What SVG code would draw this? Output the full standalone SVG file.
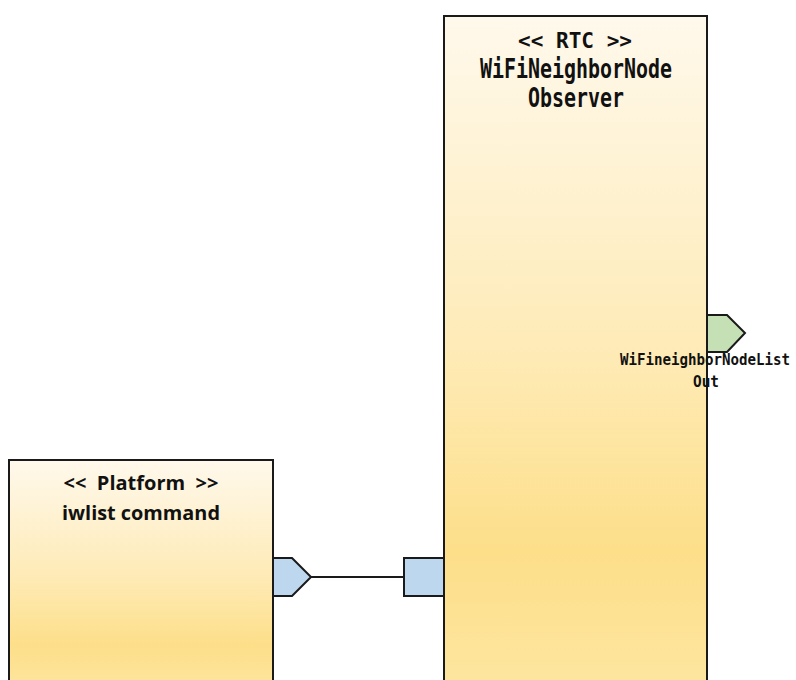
<svg xmlns="http://www.w3.org/2000/svg" width="796" height="680" viewBox="0 0 796 680">
<defs>
<linearGradient id="yel" x1="0" y1="0" x2="0" y2="1">
<stop offset="0" stop-color="#FFF9EC"/>
<stop offset="0.45" stop-color="#FEEBB8"/>
<stop offset="0.74" stop-color="#FDDF8A"/>
<stop offset="1" stop-color="#FEE8A8"/>
</linearGradient>
<style>
.box{fill:url(#yel);stroke:#1a1a1a;stroke-width:2}
.pin{fill:#BDD7EE;stroke:#1a1a1a;stroke-width:2;stroke-linejoin:miter}
.pout{fill:#C5E0B4;stroke:#1a1a1a;stroke-width:2}
.t1{font-family:"DejaVu Sans Mono",monospace;font-weight:bold;fill:#111;text-anchor:middle}
.t2{font-family:"Open Sans","Liberation Sans",sans-serif;font-weight:bold;fill:#111;text-anchor:middle}
.conn{stroke:#1a1a1a;stroke-width:2;fill:none}
</style>
</defs>
<g id="platform">
<rect class="box" x="9" y="460" width="264" height="250"/>
<text class="t2" x="141" y="490" font-size="20" xml:space="preserve">&lt;&lt;  Platform  &gt;&gt;</text>
<text class="t2" x="141" y="520" font-size="20" textLength="158" lengthAdjust="spacingAndGlyphs">iwlist command</text>
<path class="pin" d="M273 558 H292 L311 577 L292 596 H273 Z"/>
</g>
<g id="rtc">
<rect class="box" x="444" y="16" width="263" height="724"/>
<text class="t1" x="575" y="48" font-size="22" textLength="114" lengthAdjust="spacingAndGlyphs">&lt;&lt; RTC &gt;&gt;</text>
<text class="t1" x="576" y="78" font-size="26" textLength="192" lengthAdjust="spacingAndGlyphs">WiFiNeighborNode</text>
<text class="t1" x="576" y="107" font-size="26" textLength="96" lengthAdjust="spacingAndGlyphs">Observer</text>
<rect class="pin" x="404" y="558" width="40" height="38"/>
<path class="pout" d="M707 315 H727 L745 333 L727 352 H707 Z"/>
<text class="t1" x="705" y="365" font-size="16" textLength="170" lengthAdjust="spacingAndGlyphs">WiFineighborNodeList</text>
<text class="t1" x="706" y="387" font-size="16" textLength="26" lengthAdjust="spacingAndGlyphs">Out</text>
</g>
<g id="connectors">
<line class="conn" x1="311" y1="577" x2="404" y2="577"/>
</g>
</svg>
